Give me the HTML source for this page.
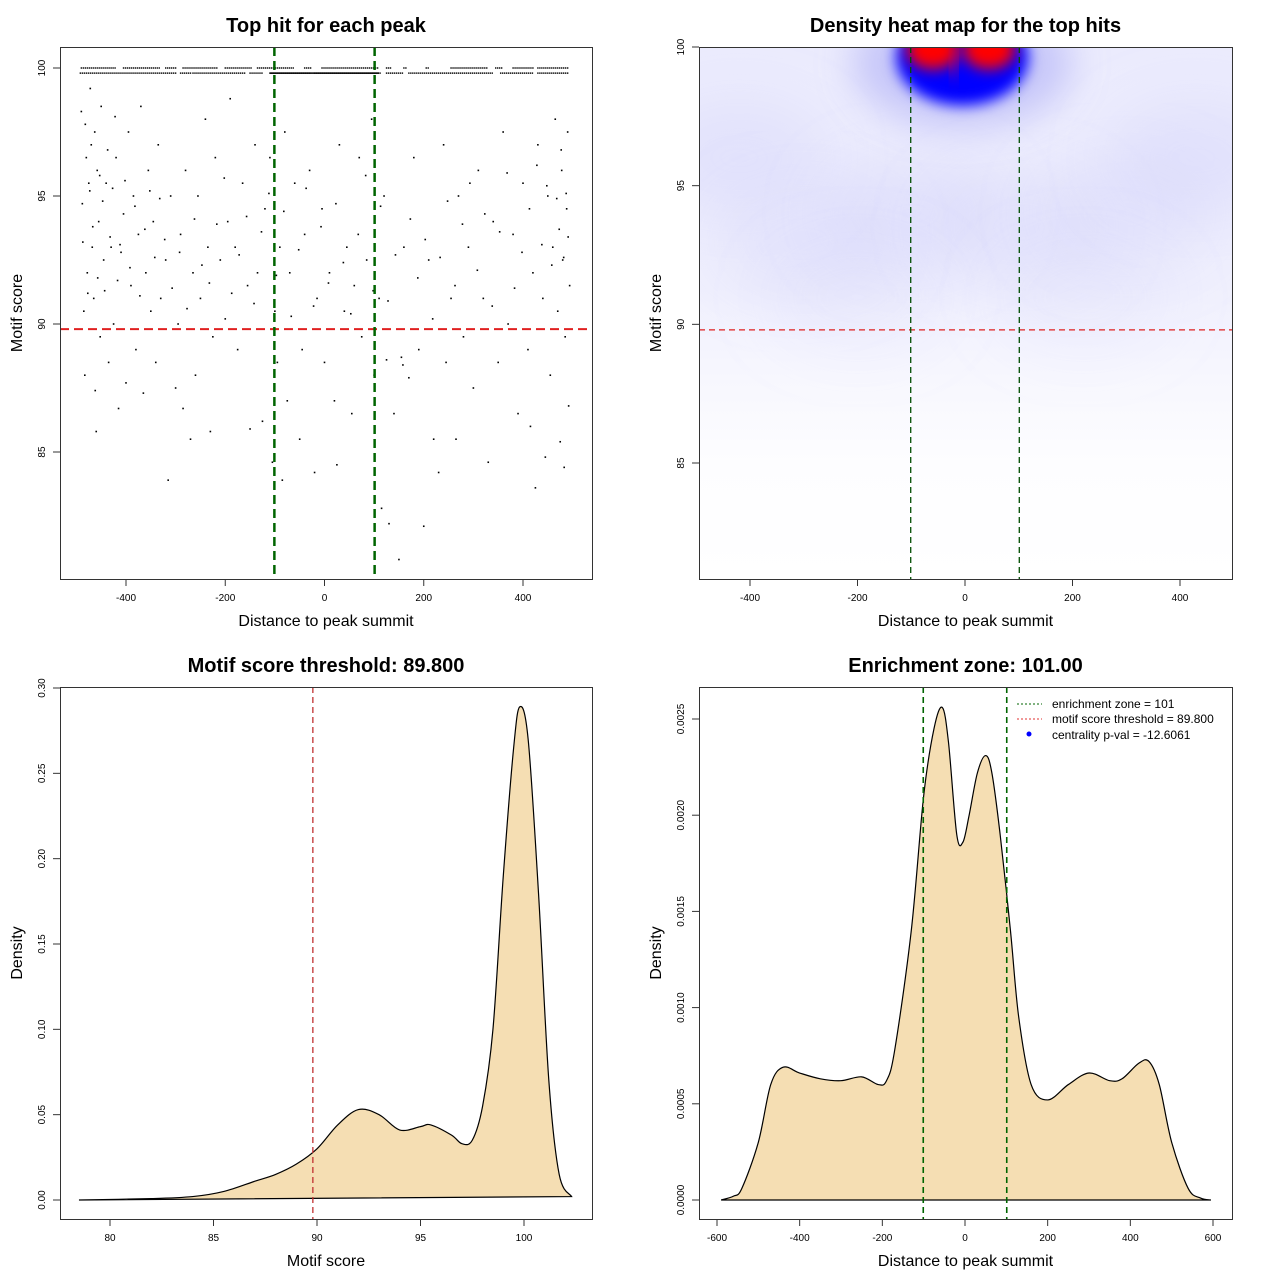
<!DOCTYPE html>
<html><head><meta charset="utf-8"><style>
html,body{margin:0;padding:0;background:#fff}
svg{display:block;font-family:"Liberation Sans",Arial,sans-serif}
</style></head><body>
<svg id="s" width="1280" height="1280" viewBox="0 0 1280 1280" xmlns="http://www.w3.org/2000/svg">
<defs>
<filter id="blur1" x="-50%" y="-50%" width="200%" height="200%"><feGaussianBlur stdDeviation="18"/></filter>
<filter id="blur2" x="-50%" y="-50%" width="200%" height="200%"><feGaussianBlur stdDeviation="7"/></filter>
<filter id="blur3" x="-50%" y="-50%" width="200%" height="200%"><feGaussianBlur stdDeviation="30"/></filter>
<linearGradient id="bg" x1="0" y1="0" x2="0" y2="1">
<stop offset="0" stop-color="#ebebfd"/><stop offset="0.45" stop-color="#efeffd"/><stop offset="0.6" stop-color="#f6f6fe"/><stop offset="0.78" stop-color="#fdfdff"/><stop offset="1" stop-color="#ffffff"/>
</linearGradient>
<clipPath id="c2"><rect x="699" y="47" width="533" height="532"/></clipPath>
<clipPath id="c1"><rect x="60" y="47" width="532" height="532"/></clipPath>
</defs>
<g id="g1"></g>
<g id="g2"></g>
<g id="g3"></g>
<g id="g4"></g>
</svg>
<script>
// ---- data ----
const scatterX=[-490,-488,-485,-483,-480,-478,-475,-472,-470,-468,-465,-462,-460,-458,-455,-452,-450,-445,-440,-435,-430,-425,-420,-415,-410,-405,-400,-395,-390,-385,-380,-375,-370,-365,-360,-355,-350,-345,-340,-335,-330,-320,-315,-310,-300,-295,-290,-285,-280,-270,-265,-260,-255,-250,-240,-235,-230,-225,-220,-210,-200,-195,-190,-180,-175,-165,-155,-150,-140,-135,-125,-120,-110,-105,-100,-95,-90,-85,-80,-75,-70,-60,-50,-45,-40,-30,-20,-15,-5,0,10,20,25,30,40,45,55,60,70,75,85,95,100,110,115,120,125,130,140,150,155,160,170,180,190,200,210,220,230,240,245,255,265,270,280,290,300,310,320,330,340,350,360,370,380,390,400,410,415,420,425,430,440,445,450,455,460,465,470,475,478,480,483,485,488,490,492,494,
-487,-482,-477,-473,-467,-463,-457,-453,-447,-443,-437,-432,-427,-422,-417,-412,-402,-392,-382,-372,-362,-352,-342,-332,-322,-307,-292,-277,-262,-247,-232,-217,-202,-187,-172,-157,-142,-127,-112,-97,-82,-67,-52,-37,-22,-7,8,23,38,53,68,83,98,113,128,143,158,173,188,203,218,233,248,263,278,293,308,323,338,353,368,383,398,413,428,438,448,458,468,473,477,482,487,491];
const scatterY=[98.3,94.7,90.5,88,96.5,92,95.5,99.2,97,93,91,87.4,85.8,96,94,89.5,98.5,92.5,95.5,88.5,93,90,96.5,86.7,92.8,94.3,87.7,97.5,91.5,95,89,93.5,98.5,87.3,92,96,90.5,94,88.5,97,91,92.5,83.9,95,87.5,90,93.5,86.7,96,85.5,92,88,95,91,98,93,85.8,89.5,96.5,92.5,90.2,94,98.8,93,89,95.5,91.5,85.9,97,92,86.2,94.5,96.5,84.6,90.5,88.5,93,83.9,97.5,87,92,95.5,85.5,89,93.5,96,84.2,91,94.5,88.5,92,87,84.5,97,90.5,93,86.5,91.5,96.5,89.5,92.5,98,88,91,82.8,95,88.6,82.2,86.5,80.8,88.7,93,87.9,96.5,89,82.1,92.5,85.5,84.2,97,88.5,91,85.5,95,89.5,93,87.5,96,91,84.6,94,88.5,97.5,90,93.5,86.5,95.5,89,86,92,83.6,97,91,84.8,95,88,93,98,90.5,85.4,96,92.5,84.4,89.5,94.5,97.5,86.8,91.5,
93.2,97.8,91.2,95.2,93.8,97.5,91.8,95.8,94.8,91.3,96.8,93.4,95.3,98.1,91.7,93.1,95.6,92.2,94.6,91.1,93.7,95.2,92.6,94.9,93.3,91.4,92.8,90.6,94.1,92.3,91.6,93.9,95.7,91.2,92.7,94.2,90.8,93.6,95.1,91.9,94.4,90.3,92.9,95.3,90.7,93.8,91.6,94.7,92.4,90.4,93.5,95.8,91.3,94.6,90.9,92.7,88.4,94.1,91.8,93.3,90.2,92.6,94.8,91.5,93.9,95.5,92.1,94.3,90.7,93.6,95.9,91.4,92.8,94.5,96.2,93.1,95.4,92.3,94.9,93.7,96.8,92.6,95.1,93.4];
const topRowRanges100=[[-490,-420],[-405,-330],[-320,-300],[-285,-215],[-200,-145],[-135,-60],[-40,-25],[-5,110],[125,135],[160,165],[205,210],[255,330],[345,360],[380,420],[430,490]];
const topRowRanges998=[[-492,-300],[-290,-270],[-265,-160],[-150,-125],[-110,-30],[-20,115],[125,160],[170,340],[355,420],[430,492]];
const xTicks1=[-400,-200,0,200,400];
const yTicks1=[85,90,95,100];
const heatBlobs=[[-60,99.7,1],[45,99.7,1]];
const heatHalo=[[-5,99.4]];
const heatSoft=[[-420,96,0.3],[-300,93,0.25],[-100,94,0.3],[100,93.5,0.25],[300,94,0.25],[430,96,0.3],[-200,91,0.15],[220,91,0.15]];
const dens3X=[78.5,82,84,85.5,87,88,89,90,91,92,93,94,95,95.5,96.5,97,97.5,98,98.5,99,99.5,99.8,100.2,100.7,101.2,101.7,102.3];
const dens3Y=[0,0.0008,0.002,0.005,0.011,0.015,0.021,0.03,0.044,0.053,0.05,0.041,0.043,0.044,0.038,0.033,0.035,0.055,0.1,0.19,0.265,0.289,0.27,0.18,0.07,0.015,0.002];
const xTicks3=[80,85,90,95,100];
const yTicks3=[0,0.05,0.10,0.15,0.20,0.25,0.30];
const yTickLabels3=["0.00","0.05","0.10","0.15","0.20","0.25","0.30"];
const dens4X=[-590,-560,-540,-500,-470,-440,-400,-350,-300,-250,-210,-190,-170,-130,-100,-75,-55,-40,-20,-5,10,30,50,65,85,110,130,160,200,250,300,350,380,420,445,470,500,540,570,595];
const dens4Y=[0,0.00002,0.00006,0.0003,0.0006,0.00069,0.00066,0.00063,0.00062,0.00064,0.0006,0.00062,0.00078,0.0014,0.0021,0.00245,0.00256,0.00238,0.0019,0.00186,0.002,0.00222,0.00231,0.00222,0.0019,0.0014,0.00095,0.0006,0.00052,0.0006,0.00066,0.00062,0.00063,0.00071,0.00072,0.0006,0.0003,0.00006,0.00001,0];
const xTicks4=[-600,-400,-200,0,200,400,600];
const yTicks4=[0,0.0005,0.001,0.0015,0.002,0.0025];
const yTickLabels4=["0.0000","0.0005","0.0010","0.0015","0.0020","0.0025"];
const threshold=89.8, zone=101;

const NS="http://www.w3.org/2000/svg";
function mk(parent,tag,attrs,text){const e=document.createElementNS(NS,tag);for(const k in attrs)e.setAttribute(k,attrs[k]);if(text!==undefined)e.textContent=text;parent.appendChild(e);return e;}
function lin(d0,d1,r0,r1){return v=>r0+(v-d0)*(r1-r0)/(d1-d0);}
function smoothPath(pts){let d="M"+pts[0][0]+","+pts[0][1];for(let i=0;i<pts.length-1;i++){const p0=pts[Math.max(0,i-1)],p1=pts[i],p2=pts[i+1],p3=pts[Math.min(pts.length-1,i+2)];const c1x=p1[0]+(p2[0]-p0[0])/6,c1y=p1[1]+(p2[1]-p0[1])/6,c2x=p2[0]-(p3[0]-p1[0])/6,c2y=p2[1]-(p3[1]-p1[1])/6;d+=" C"+c1x+","+c1y+" "+c2x+","+c2y+" "+p2[0]+","+p2[1];}return d;}

function frame(g,x,y,w,h,title,xlab,ylab){
  let t=mk(g,"text",{x:x+w/2,y:y-15,"text-anchor":"middle","font-size":"20","font-weight":"bold"},title);
  
  
  t=mk(g,"text",{x:x+w/2,y:y+h+47,"text-anchor":"middle","font-size":"16"},xlab);
  
  
  t=mk(g,"text",{x:0,y:0,"text-anchor":"middle","font-size":"16",transform:"translate("+(x-38)+","+(y+h/2)+") rotate(-90)"},ylab);
  
  
}
function box(g,x,y,w,h){const r=mk(g,"rect",{x:x+.5,y:y+.5,width:w,height:h,fill:"none",stroke:"#333","stroke-width":1});
  
  }
function xAxis(g,ticks,sx,yb,labels){ticks.forEach((v,i)=>{const X=sx(v);mk(g,"line",{x1:X,x2:X,y1:yb,y2:yb+7,stroke:"#333"});const t=mk(g,"text",{x:X,y:yb+22,"text-anchor":"middle","font-size":"10"},labels?labels[i]:String(v));
  
  });}
function yAxis(g,ticks,sy,xl,labels){ticks.forEach((v,i)=>{const Y=sy(v);mk(g,"line",{x1:xl-7,x2:xl,y1:Y,y2:Y,stroke:"#333"});const t=mk(g,"text",{x:0,y:0,"text-anchor":"middle","font-size":"10",transform:"translate("+(xl-15)+","+Y+") rotate(-90)"},labels?labels[i]:String(v));
  
  });}

// ---- panel 1 ----
(function(){const g=document.getElementById("g1");
const sx=lin(-400,400,126,523), sy=lin(85,100,452,68);
const cg=mk(g,"g",{"clip-path":"url(#c1)"});
scatterX.forEach((x,i)=>{const r=mk(cg,"rect",{x:sx(x)-0.8,y:sy(scatterY[i])-0.8,width:1.6,height:1.6,fill:"#000"});
  
  });
[[topRowRanges100,100],[topRowRanges998,99.8]].forEach(([rs,yv])=>{rs.forEach(r=>{for(let x=r[0];x<=r[1];x+=4){const p=mk(cg,"rect",{x:sx(x)-0.7,y:sy(yv)-0.7,width:1.4,height:1.4,fill:"#000"});
  
  }});});
mk(cg,"line",{x1:sx(-110),x2:sx(110),y1:sy(99.8),y2:sy(99.8),stroke:"#000","stroke-width":1.6});
mk(cg,"line",{x1:60,x2:592,y1:sy(threshold),y2:sy(threshold),stroke:"#e02020","stroke-width":2,"stroke-dasharray":"9,5"});
[-zone,zone].forEach(z=>{const v=mk(cg,"line",{x1:sx(z),x2:sx(z),y1:47,y2:579,stroke:"#006400","stroke-width":2.5,"stroke-dasharray":"9,5"});
  
  });
box(g,60,47,532,532);xAxis(g,xTicks1,sx,579);yAxis(g,yTicks1,sy,60);
frame(g,60,47,532,532,"Top hit for each peak","Distance to peak summit","Motif score");})();

// ---- panel 2 ----
(function(){const g=document.getElementById("g2");
const sx=lin(-400,400,750,1180), sy=lin(85,100,463,47);
const cg=mk(g,"g",{"clip-path":"url(#c2)"});
mk(cg,"rect",{x:699,y:47,width:533,height:532,fill:"url(#bg)"});
heatSoft.forEach(b=>{const e=mk(cg,"ellipse",{cx:sx(b[0]),cy:sy(b[1]),rx:90,ry:55,fill:"#c8c8f8","fill-opacity":b[2],filter:"url(#blur3)"});
  
  });
heatHalo.forEach(b=>{let e=mk(cg,"ellipse",{cx:sx(b[0]),cy:sy(b[1]),rx:110,ry:65,fill:"#9a9af5","fill-opacity":0.45,filter:"url(#blur1)"});
  
  e=mk(cg,"ellipse",{cx:sx(b[0]),cy:sy(b[1])-6,rx:66,ry:48,fill:"#0000ff",filter:"url(#blur2)"});
  
  });
heatBlobs.forEach(b=>{const e=mk(cg,"ellipse",{cx:sx(b[0]),cy:sy(b[1])-6,rx:26,ry:20,fill:"#ff0000",filter:"url(#blur2)"});
  
  });
mk(cg,"rect",{x:sx(-20)-3,y:47,width:5,height:30,fill:"#cc0050",filter:"url(#blur2)"});
mk(cg,"line",{x1:699,x2:1232,y1:sy(threshold),y2:sy(threshold),stroke:"#e02020","stroke-width":1.3,"stroke-dasharray":"6,4"});
[-zone,zone].forEach(z=>{const v=mk(cg,"line",{x1:sx(z),x2:sx(z),y1:47,y2:579,stroke:"#004d00","stroke-width":1.3,"stroke-dasharray":"6,4"});
  
  });
box(g,699,47,533,532);xAxis(g,xTicks1,sx,579);yAxis(g,yTicks1,sy,699);
frame(g,699,47,533,532,"Density heat map for the top hits","Distance to peak summit","Motif score");})();

// ---- panel 3 ----
(function(){const g=document.getElementById("g3");
const sx=lin(80,100,110,524), sy=lin(0,0.30,1200,688);
const pts=dens3X.map((x,i)=>[sx(x),sy(dens3Y[i])]);
const a=mk(g,"path",{d:smoothPath(pts)+" Z",fill:"#f5deb3",stroke:"#000","stroke-width":1.2});


mk(g,"line",{x1:sx(threshold),x2:sx(threshold),y1:687,y2:1219,stroke:"#c03030","stroke-width":1.3,"stroke-dasharray":"6,4"});
box(g,60,687,532,532);xAxis(g,xTicks3,sx,1219);yAxis(g,yTicks3,sy,60,yTickLabels3);
frame(g,60,687,532,532,"Motif score threshold: 89.800","Motif score","Density");})();

// ---- panel 4 ----
(function(){const g=document.getElementById("g4");
const sx=lin(-600,600,717,1213), sy=lin(0,0.0025,1200,719);
const pts=dens4X.map((x,i)=>[sx(x),sy(dens4Y[i])]);
const a=mk(g,"path",{d:smoothPath(pts)+" Z",fill:"#f5deb3",stroke:"#000","stroke-width":1.2});


[-zone,zone].forEach(z=>{const v=mk(g,"line",{x1:sx(z),x2:sx(z),y1:687,y2:1219,stroke:"#006400","stroke-width":1.6,"stroke-dasharray":"6,4"});
  
  });
box(g,699,687,533,532);xAxis(g,xTicks4,sx,1219);yAxis(g,yTicks4,sy,699,yTickLabels4);
const lg=mk(g,"g",{});


mk(lg,"line",{x1:1017,x2:1042,y1:704,y2:704,stroke:"#006400","stroke-dasharray":"2,2"});
mk(lg,"text",{x:1052,y:708,"font-size":"12"},"enrichment zone = 101");
mk(lg,"line",{x1:1017,x2:1042,y1:719,y2:719,stroke:"#e03030","stroke-dasharray":"2,2"});
mk(lg,"text",{x:1052,y:723,"font-size":"12"},"motif score threshold = 89.800");
mk(lg,"circle",{cx:1029,cy:734,r:2.5,fill:"#0000ff"});
mk(lg,"text",{x:1052,y:739,"font-size":"12"},"centrality p-val = -12.6061");
frame(g,699,687,533,532,"Enrichment zone: 101.00","Distance to peak summit","Density");})();
</script>
</body></html>
